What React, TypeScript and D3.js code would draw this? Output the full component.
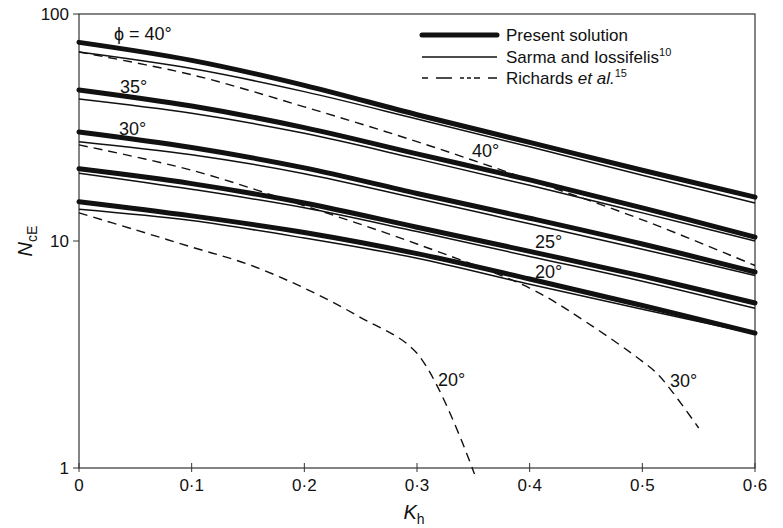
import React from "react";
import * as d3 from "d3";

const khTicks = [0, 0.1, 0.2, 0.3, 0.4, 0.5, 0.6];
const tickLabels = ["0", "0·1", "0·2", "0·3", "0·4", "0·5", "0·6"];
const yTicks = [1, 10, 100];

// Present solution (thick)
const kh = [0, 0.1, 0.2, 0.3, 0.4, 0.5, 0.6];
const present40 = [75, 62.5, 48.5, 36, 27.2, 20.5, 15.6];
const present35 = [46.3, 39.3, 31.6, 24.2, 18.6, 14.0, 10.4];
const present30 = [30.2, 25.8, 21.0, 16.2, 12.6, 9.7, 7.3];
const present25 = [20.8, 17.9, 14.7, 11.5, 9.0, 7.0, 5.33];
const present20 = [14.9, 12.9, 10.9, 8.8, 6.8, 5.2, 3.93];

// Sarma and Iossifelis (thin)
const sarma40 = [68, 57.5, 45.5, 34.5, 26.0, 19.5, 14.7];
const sarma35 = [42.2, 36.5, 29.8, 23.0, 17.6, 13.3, 10.0];
const sarma30 = [27.4, 24.0, 19.8, 15.4, 11.9, 9.2, 7.05];
const sarma25 = [19.9, 16.9, 14.0, 11.0, 8.55, 6.65, 5.05];
const sarma20 = [13.8, 12.3, 10.3, 8.4, 6.45, 5.0, 3.9];

// Richards et al. (dashed)
const richards40Kh = [0, 0.1, 0.2, 0.3, 0.4, 0.5, 0.6];
const richards40 = [68, 54, 39, 27.4, 18.6, 12.4, 7.8];
const richards30Kh = [0, 0.1, 0.2, 0.3, 0.4, 0.45, 0.5, 0.515, 0.55];
const richards30 = [26.5, 20.5, 14.3, 9.7, 6.2, 4.4, 2.95, 2.55, 1.5];
const richards20Kh = [0, 0.05, 0.1, 0.15, 0.2, 0.25, 0.3, 0.351];
const richards20 = [13.3, 11.2, 9.4, 7.9, 6.2, 4.6, 3.2, 0.94];

const W = 783;
const H = 528;
const L = 79, R = 755, T = 14, B = 468;
const FONT = "Liberation Sans, Arial, sans-serif";

export default function App() {
  const x = d3.scaleLinear().domain([0, 0.6]).range([L, R]);
  const y = d3.scaleLog().domain([1, 100]).range([B, T]);
  const smooth = d3
    .line<[number, number]>()
    .x((d) => x(d[0]))
    .y((d) => y(d[1]))
    .curve(d3.curveCatmullRom.alpha(0.5));
  const zip = (xs: number[], ys: number[]) => xs.map((v, i) => [v, ys[i]] as [number, number]);

  const thick = [present40, present35, present30, present25, present20];
  const thin = [sarma40, sarma35, sarma30, sarma25, sarma20];
  const dashed = [
    zip(richards40Kh, richards40),
    zip(richards30Kh, richards30),
    zip(richards20Kh, richards20),
  ];

  return (
    <svg
      width={W}
      height={H}
      style={{ position: "absolute", left: 0, top: 0, background: "#fff" }}
      fontFamily={FONT}
    >
      <rect x={0} y={0} width={W} height={H} fill="#fff" />
      {/* frame */}
      <rect x={L} y={T} width={R - L} height={B - T} fill="none" stroke="#333" strokeWidth={1.2} />
      {/* x ticks */}
      {khTicks.map((t, i) => (
        <g key={"xt" + i}>
          <line x1={x(t)} x2={x(t)} y1={B - 5} y2={B + 4} stroke="#333" strokeWidth={1} />
          <text x={x(t)} y={491} fontSize={17} textAnchor="middle" fill="#111">
            {tickLabels[i]}
          </text>
        </g>
      ))}
      {/* y ticks */}
      {yTicks.map((t) => (
        <g key={"yt" + t}>
          <line x1={L - 6} x2={L} y1={y(t)} y2={y(t)} stroke="#333" strokeWidth={1} />
          <text x={L - 10} y={y(t) + 6} fontSize={17} textAnchor="end" fill="#111">
            {t}
          </text>
        </g>
      ))}
      {/* axis titles */}
      <text transform={`translate(32,241) rotate(-90)`} fontSize={20} textAnchor="middle" fill="#111">
        <tspan fontStyle="italic">N</tspan>
        <tspan fontSize={14} dy={5}>cE</tspan>
      </text>
      <text x={414} y={519} fontSize={20} textAnchor="middle" fill="#111">
        <tspan fontStyle="italic">K</tspan>
        <tspan fontSize={14} dy={5}>h</tspan>
      </text>

      {/* curves */}
      <g fill="none" stroke="#111">
        {dashed.map((d, i) => (
          <path key={"d" + i} d={smooth(d) || ""} strokeWidth={1.4} strokeDasharray="9,6" />
        ))}
        {thin.map((d, i) => (
          <path key={"s" + i} d={smooth(zip(kh, d)) || ""} strokeWidth={1.5} />
        ))}
        {thick.map((d, i) => (
          <path key={"p" + i} d={smooth(zip(kh, d)) || ""} strokeWidth={5} strokeLinecap="round" />
        ))}
      </g>

      {/* curve labels */}
      <g fontSize={18} fill="#111">
        <text x={114} y={40}>ϕ = 40°</text>
        <text x={120} y={93}>35°</text>
        <text x={119} y={135}>30°</text>
        <text x={472} y={157}>40°</text>
        <text x={535} y={248}>25°</text>
        <text x={535} y={278}>20°</text>
        <text x={438} y={386}>20°</text>
        <text x={670} y={387}>30°</text>
      </g>

      {/* legend */}
      <g stroke="#111" fill="none">
        <line x1={422} x2={497} y1={35} y2={35} strokeWidth={5} strokeLinecap="round" />
        <line x1={422} x2={497} y1={57} y2={57} strokeWidth={1.5} />
        <line x1={422} x2={497} y1={78} y2={78} strokeWidth={1.3} strokeDasharray="6,8,16,8,4,3,4,3" />
      </g>
      <g fontSize={17} fill="#111">
        <text x={506} y={41}>Present solution</text>
        <text x={506} y={63}>
          Sarma and Iossifelis<tspan fontSize={11} dy={-7}>10</tspan>
        </text>
        <text x={506} y={84}>
          Richards <tspan fontStyle="italic">et al.</tspan>
          <tspan fontSize={11} dy={-7}>15</tspan>
        </text>
      </g>
    </svg>
  );
}
